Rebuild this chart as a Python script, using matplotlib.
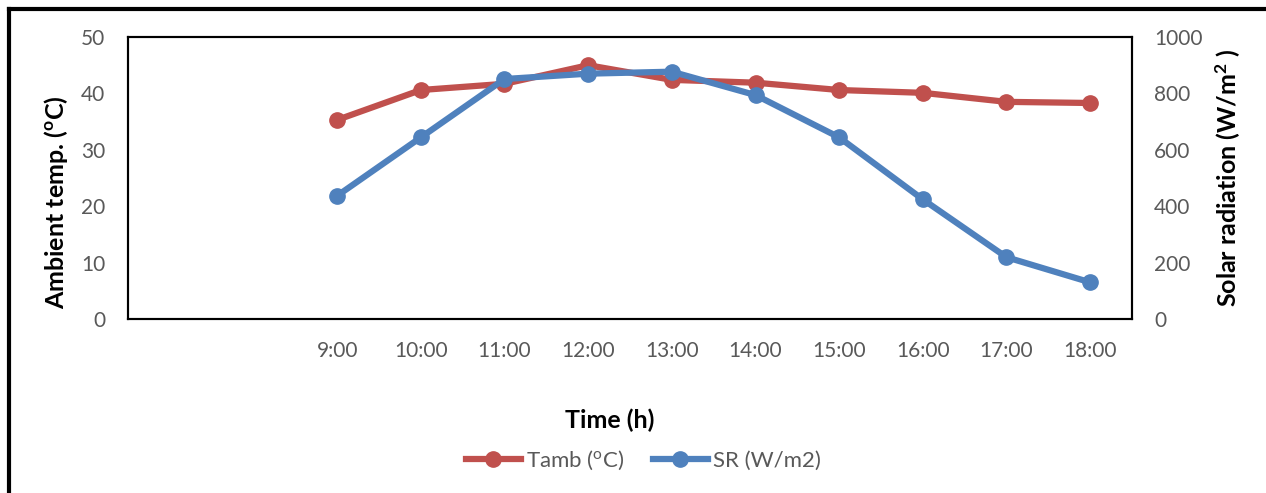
import matplotlib
matplotlib.use("Agg")
import matplotlib.pyplot as plt
from matplotlib.lines import Line2D

plt.rcParams['font.family'] = ['Lato', 'DejaVu Sans']
plt.rcParams['mathtext.default'] = 'regular'

categories = ["", "", "9:00", "10:00", "11:00", "12:00", "13:00", "14:00", "15:00", "16:00", "17:00", "18:00"]
tamb = [None, None, 35.3, 40.6, 41.7, 45.0, 42.4, 41.9, 40.6, 40.1, 38.5, 38.3]
sr = [None, None, 437, 644, 851, 870, 877, 794, 644, 424, 219, 130]

red = "#C0504D"
blue = "#4F81BD"
gray = "#595959"

fig = plt.figure(figsize=(12.66, 4.93), dpi=100)
ax = fig.add_axes([128/1266, 1-319/493, (1132-128)/1266, (319-37)/493])
ax2 = ax.twinx()

x = list(range(len(categories)))
xs = [i for i, v in enumerate(tamb) if v is not None]
ax.plot(xs, [tamb[i] for i in xs], color=red, lw=4.5, marker='o', ms=11, zorder=3)
xs2 = [i for i, v in enumerate(sr) if v is not None]
ax2.plot(xs2, [sr[i] for i in xs2], color=blue, lw=4.5, marker='o', ms=11, zorder=3)

ax.set_xlim(-0.5, len(categories) - 0.5)
ax.set_xticks(x)
ax.set_xticklabels(categories)
ax.set_ylim(0, 50)
ax.set_yticks(range(0, 51, 10))
ax2.set_ylim(0, 1000)
ax2.set_yticks(range(0, 1001, 200))

for a in (ax, ax2):
    a.tick_params(length=0, labelsize=15, labelcolor=gray)
    for s in a.spines.values():
        s.set_linewidth(1.5)
        s.set_color("black")
ax.tick_params(axis='x', pad=16)
ax.tick_params(axis='y', pad=16.5)
ax2.tick_params(axis='y', pad=16)

ax.set_ylabel("Ambient temp. ($^{o}$C)", fontsize=18, fontweight='bold')
ax.yaxis.set_label_coords((70-128)/1004, (319-202)/282)
ax2.set_ylabel("Solar radiation (W/m$^{2}$ )", fontsize=18, fontweight='bold')
ax2.yaxis.set_label_coords((1213-128)/1004, 0.5)
fig.text(610/1266, 1-420/493, "Time (h)", ha='center', va='center',
         fontsize=18, fontweight='bold')

handles = [Line2D([], [], color=red, lw=4.5, marker='o', ms=11),
           Line2D([], [], color=blue, lw=4.5, marker='o', ms=11)]
fig.legend(handles, ["Tamb ($^{o}$C)", "SR (W/m2)"], loc='center',
           bbox_to_anchor=(643/1266, 1-460/493), ncol=2, frameon=False,
           fontsize=16, labelcolor=gray, handlelength=2.5, handletextpad=0.2,
           columnspacing=1.3)

# outer border (left and top)
fig.add_artist(Line2D([9/1266, 9/1266], [0, 1-9/493], transform=fig.transFigure,
                      color='black', lw=3))
fig.add_artist(Line2D([9/1266, 1], [1-9/493, 1-9/493], transform=fig.transFigure,
                      color='black', lw=3))

fig.savefig("out.png", dpi=100)
